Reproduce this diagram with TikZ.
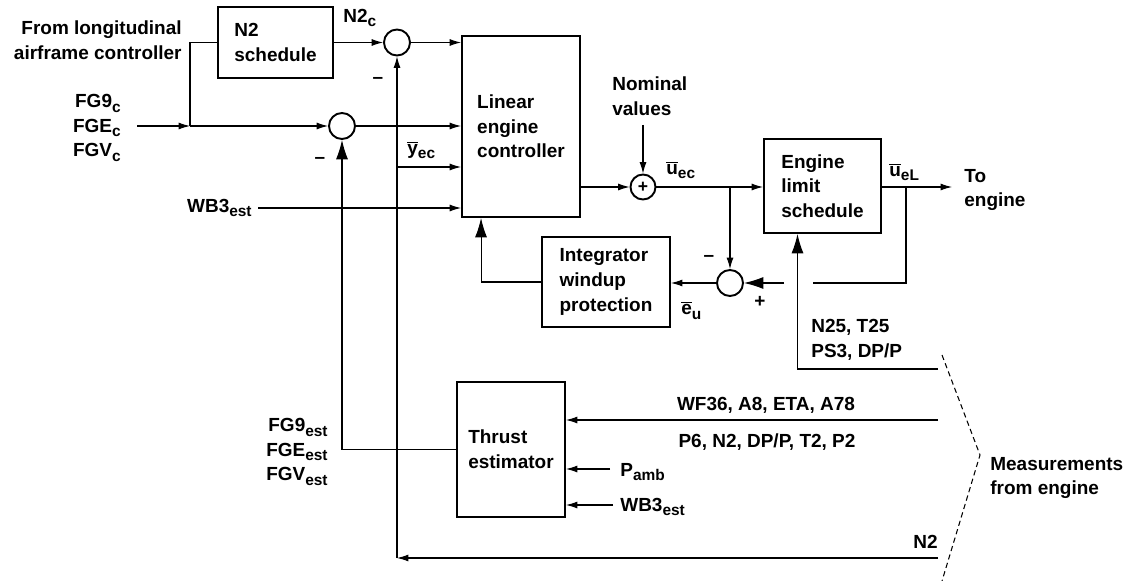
\documentclass[tikz,border=0pt]{standalone}
\usepackage{fontspec}
\setmainfont{Liberation Sans}
\usetikzlibrary{arrows.meta,calc}
\newdimen\upx \upx=0.02cm
\newcommand{\sbt}[1]{\raisebox{-0.45ex}{\fontsize{8.8}{8.8}\selectfont #1}}
\newcommand{\ovl}[1]{$\overline{\mbox{#1}}$}
\tikzset{
  every node/.style={font=\fontsize{10.8}{14}\selectfont\bfseries, inner sep=0pt},
  blk/.style={draw, line width=1.1pt, align=left},
  sumc/.style={draw, circle, line width=1.1pt, minimum size=26\upx},
  ln/.style={line width=0.6pt},
  arr/.style={ln, -{Latex[length=6.5pt,width=4pt]}},
  arrbig/.style={ln, -{Latex[length=11pt,width=6.8pt]}},
  lbl/.style={align=left},
}
\begin{document}
\begin{tikzpicture}[x=0.02cm,y=-0.02cm]
\useasboundingbox (0,0) rectangle (1140,581);
% blocks
\node[blk, minimum width=115\upx, minimum height=71\upx] (n2s) at (275.5,42.5) {N2\\schedule};
\node[blk, minimum width=118\upx, minimum height=181\upx] (lec) at (521,126.5) {Linear\\engine\\controller};
\node[blk, minimum width=117\upx, minimum height=94\upx] (els) at (822.5,186) {Engine\\limit\\schedule};
\node[blk, minimum width=128\upx, minimum height=90\upx] (iwp) at (606,282) {Integrator\\windup\\protection};
\node[blk, minimum width=108\upx, minimum height=135\upx] (te) at (511,449.5) {Thrust\\estimator};
% summing junctions
\node[sumc] (c1) at (397,42.5) {};
\node[sumc] (c2) at (342,126) {};
\node[sumc, minimum size=25\upx] (c3) at (643,187) {\fontsize{10}{10}\selectfont +};
\node[sumc] (c4) at (730,283) {};
% labels
\node[align=right, anchor=east] (from) at (182,40) {From longitudinal\\airframe controller};
\node[align=right, anchor=east] (fgc) at (121,128) {FG9\sbt{c}\\FGE\sbt{c}\\FGV\sbt{c}};
\node[anchor=west] (n2cl) at (343,18) {N2\sbt{c}};
\node (m1) at (378,80) {--};
\node (m2) at (320,160) {--};
\node[anchor=west] (yec) at (407,150) {\ovl{y}\sbt{ec}};
\node[anchor=east] (wbl) at (252,208) {WB3\sbt{est}};
\node[lbl, anchor=west] (nom) at (612,96) {Nominal\\values};
\node[anchor=west] (uec) at (666,170) {\ovl{u}\sbt{ec}};
\node[anchor=west] (uel) at (889,172) {\ovl{u}\sbt{eL}};
\node[lbl, anchor=west] (toeng) at (964,190) {To\\engine};
\node (m3) at (709,258) {--};
\node (p4) at (760,302) {+};
\node[anchor=west] (eu) at (681,310) {\ovl{e}\sbt{u}};
\node[lbl, anchor=west] (n25) at (811,340) {N25, T25\\PS3, DP/P};
\node (wf) at (766,405) {WF36, A8, ETA, A78};
\node (p6) at (767,442) {P6, N2, DP/P, T2, P2};
\node[anchor=west] (pamb) at (620,472) {P\sbt{amb}};
\node[anchor=west] (wb2) at (620,507) {WB3\sbt{est}};
\node[anchor=east] (n2l) at (938,542) {N2};
\node[align=right, anchor=east] (fgest) at (328,452) {FG9\sbt{est}\\FGE\sbt{est}\\FGV\sbt{est}};
\node[lbl, anchor=west] (meas) at (990,478) {Measurements\\from engine};
% coordinates
\coordinate (inS) at (137,126);
\coordinate (jn) at (190,126);
\coordinate (n2st) at (938,558);
\coordinate (n2c) at (397,558);
\coordinate (yb) at (397,167);
\coordinate (nomS) at (643,125);
\coordinate (b2) at (730,187);
\coordinate (out) at (952,187);
\coordinate (b3) at (906,187);
\coordinate (fbA) at (813,283);
\coordinate (fbB) at (784,283);
\coordinate (n25s) at (938,369);
\coordinate (wfS) at (938,420);
\coordinate (pS) at (610,469);
\coordinate (wS) at (613,505);
\coordinate (brA) at (942,355);
\coordinate (brB) at (980,455);
\coordinate (brC) at (942,581);
% connectors
\draw[arr] (inS) -- (jn);
\draw[ln] (jn) |- (n2s.west);
\draw[arr] (jn) -- (c2.west);
\draw[arr] (n2s.east) -- (c1.west);
\draw[arr] (c1.east) -- (lec.west |- c1);
\draw[arr] (c2.east) -- (lec.west |- c2);
\draw[arr] (n2st) -- (n2c);
\draw[arr] (n2c) -- (c1.south);
\draw[arr] (yb) -- (lec.west |- yb);
\draw[arr] ([xshift=6\upx]wbl.east) -- (lec.west |- wbl);
\draw[arrbig] (te.west) -| (c2.south);
\draw[arr] (lec.east |- c3) -- (c3.west);
\draw[arr] (nomS) -- (c3.north);
\draw[arr] (c3.east) -- (els.west |- c3);
\draw[arr] (b2) -- (c4.north);
\draw[arr] (els.east |- c3) -- (out);
\draw[ln] (b3) |- (fbA);
\draw[arrbig] (fbB) -- (c4.east);
\draw[arr] (c4.west) -- (iwp.east |- c4);
\draw[arrbig] (iwp.west) -| ([xshift=20\upx]lec.south west);
\draw[arrbig] (n25s) -| ([xshift=-25\upx]els.south);
\draw[arr] (wfS) -- (te.east |- wfS);
\draw[arr] (pS) -- (te.east |- pS);
\draw[arr] (wS) -- (te.east |- wS);
\draw[ln, dash pattern=on 3pt off 2pt] (brA) -- (brB) -- (brC);
\end{tikzpicture}
\end{document}
